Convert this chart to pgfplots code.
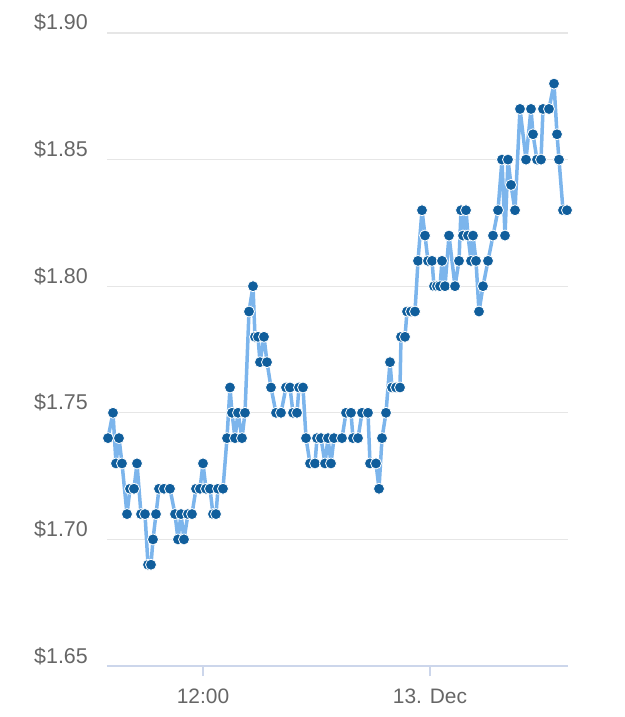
\documentclass[border=0pt]{standalone}
\usepackage{pgfplots}
\pgfplotsset{compat=1.18}
\usepackage{pgfplotstable}
\usepackage{fontspec}
\setmainfont{Liberation Sans}
\definecolor{linecol}{RGB}{124,181,236}
\definecolor{markcol}{RGB}{16,94,156}
\definecolor{gridcol}{RGB}{230,230,230}
\definecolor{axiscol}{RGB}{204,214,235}
\definecolor{labcol}{RGB}{102,102,102}
\pgfplotstableread{
t y
108 1.74
113 1.75
116 1.73
119 1.74
122 1.73
127 1.71
130 1.72
134 1.72
137 1.73
141 1.71
145 1.71
148 1.69
151 1.69
153 1.70
156 1.71
159 1.72
164 1.72
170 1.72
175 1.71
178 1.70
181 1.71
184 1.70
188 1.71
192 1.71
196 1.72
200 1.72
203 1.73
206 1.72
210 1.72
213 1.71
216 1.71
218 1.72
223 1.72
227 1.74
230 1.76
232 1.75
235 1.74
238 1.75
242 1.74
245 1.75
249 1.79
253 1.80
255 1.78
258 1.78
260 1.77
264 1.78
267 1.77
271 1.76
276 1.75
281 1.75
286 1.76
290 1.76
293 1.75
297 1.75
299 1.76
303 1.76
306 1.74
310 1.73
315 1.73
317 1.74
321 1.74
325 1.73
328 1.74
331 1.73
334 1.74
342 1.74
346 1.75
351 1.75
353 1.74
358 1.74
362 1.75
368 1.75
370 1.73
376 1.73
379 1.72
382 1.74
386 1.75
390 1.77
392 1.76
396 1.76
400 1.76
401 1.78
405 1.78
407 1.79
411 1.79
415 1.79
418 1.81
422 1.83
425 1.82
428 1.81
432 1.81
434 1.80
437 1.80
440 1.80
442 1.81
445 1.80
449 1.82
455 1.80
459 1.81
461 1.83
463 1.82
466 1.83
468 1.82
471 1.81
473 1.82
476 1.81
479 1.79
483 1.80
488 1.81
493 1.82
498 1.83
502 1.85
505 1.82
508 1.85
511 1.84
515 1.83
520 1.87
526 1.85
531 1.87
533 1.86
537 1.85
541 1.85
543 1.87
549 1.87
554 1.88
557 1.86
559 1.85
563 1.83
567 1.83
}\pricedata
\begin{document}
\begin{tikzpicture}
\path[use as bounding box] (-107bp,-51bp) rectangle (518bp,666bp);
\begin{axis}[
  at={(0,0)}, anchor=south west,
  scale only axis,
  width=461bp, height=633bp,
  xmin=107, xmax=568,
  ymin=1.65, ymax=1.90,
  clip=false,
  axis x line*=bottom,
  axis y line*=left,
  y axis line style={draw=none},
  x axis line style={draw=axiscol, line width=1.2bp, -},
  ymajorgrids,
  grid style={draw=gridcol, line width=1.2bp},
  ytick={1.65,1.70,1.75,1.80,1.85,1.90},
  yticklabels={\$1.65,\$1.70,\$1.75,\$1.80,\$1.85,\$1.90},
  xtick={203,430},
  xticklabels={12:00,13. Dec},
  ytick style={draw=none},
  xtick style={draw=axiscol, line width=1.2bp},
  tick align=outside,
  major tick length=10bp,
  yticklabel style={anchor=base east, inner sep=0pt, xshift=-9bp, yshift=3bp,
    font=\fontsize{21.5}{25}\selectfont, text=labcol},
  xticklabel style={anchor=base, inner sep=0pt, yshift=-27bp,
    font=\fontsize{21}{25}\selectfont, text=labcol},
]
\addplot[color=linecol, line width=3.5bp, line join=round, mark=*,
  mark size=5.5bp,
  mark options={fill=markcol, draw=white, line width=0.8bp}]
  table[x=t, y=y] {\pricedata};
\end{axis}
\end{tikzpicture}
\end{document}
